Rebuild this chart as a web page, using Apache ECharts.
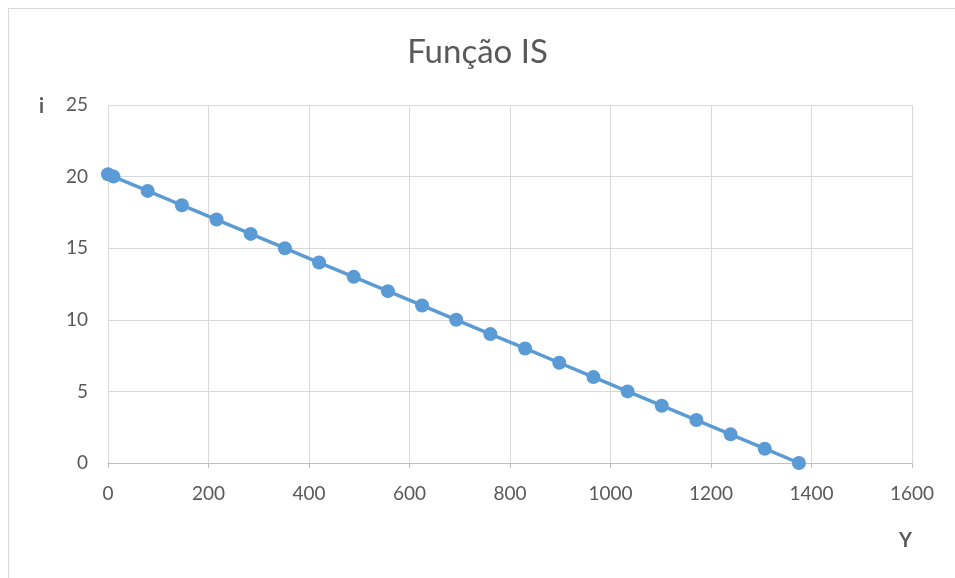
<!DOCTYPE html>
<html><head><meta charset="utf-8">
<script src="https://cdn.jsdelivr.net/npm/echarts@6/dist/echarts.min.js"></script>
<style>
html,body{margin:0;padding:0;background:#fff;overflow:hidden;}
#frame{position:absolute;left:8px;top:8px;width:960px;height:590px;border:1px solid #d9d9d9;box-sizing:border-box;}
#c{position:absolute;left:0;top:0;width:955px;height:578px;}
</style></head>
<body><div id="frame"></div><div id="c"></div>
<script>
const yValues = [0, 11, 79, 147, 216, 284, 352, 420, 489, 557, 625, 693, 761, 830, 898, 966, 1034, 1102, 1171, 1239, 1307, 1375];
const iValues = [20.16, 20, 19, 18, 17, 16, 15, 14, 13, 12, 11, 10, 9, 8, 7, 6, 5, 4, 3, 2, 1, 0];
const title = 'Função IS';
const font = 'Lato, "Open Sans", sans-serif';
const chart = echarts.init(document.getElementById('c'), null, {renderer:'canvas'});
chart.setOption({
  animation:false,
  title:{text:title,left:'center',top:31,textStyle:{fontFamily:font,fontSize:33,fontWeight:'normal',color:'#595959'}},
  grid:{left:108,right:43,top:105,bottom:115,containLabel:false,outerBoundsMode:'none'},
  xAxis:{type:'value',min:0,max:1600,interval:200,
    axisLine:{show:true,lineStyle:{color:'#bfbfbf',width:1}},
    axisTick:{show:true,length:5,lineStyle:{color:'#bfbfbf'}},
    splitLine:{show:true,lineStyle:{color:'#d9d9d9',width:1}},
    axisLabel:{fontFamily:font,fontSize:19,color:'#595959',margin:21,formatter:v=>String(v)},
    name:'Y',nameLocation:'end',nameGap:0,
    nameTextStyle:{fontFamily:font,fontSize:20,fontWeight:'bold',color:'#595959',padding:[68,0,0,0],align:'right',verticalAlign:'top'}
  },
  yAxis:{type:'value',min:0,max:25,interval:5,
    axisLine:{show:false},axisTick:{show:false},
    splitLine:{show:true,lineStyle:{color:'#d9d9d9',width:1}},
    axisLabel:{fontFamily:font,fontSize:19,color:'#595959',margin:20,formatter:v=>String(v)},
    name:'i',nameLocation:'end',nameGap:-12,
    nameTextStyle:{fontFamily:font,fontSize:20,fontWeight:'bold',color:'#595959',align:'right',padding:[0,64,0,0]}
  },
  series:[{type:'line',data:yValues.map((v,k)=>[v,iValues[k]]),
    symbol:'circle',symbolSize:14,
    lineStyle:{color:'#5B9BD5',width:3.5},
    itemStyle:{color:'#5B9BD5'}
  }]
});
</script></body></html>
